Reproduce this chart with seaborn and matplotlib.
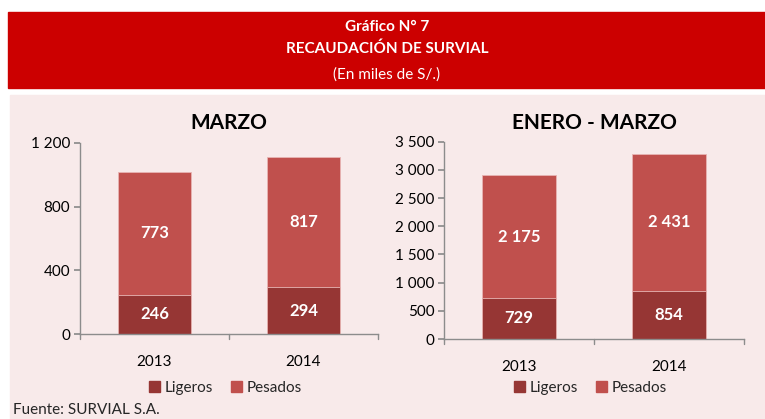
import pandas as pd
import seaborn as sns
import matplotlib.pyplot as plt
from matplotlib.patches import Rectangle, Patch
from matplotlib.ticker import FuncFormatter

years = ['2013', '2014']
marzo_ligeros = [246, 294]
marzo_pesados = [773, 817]
enero_marzo_ligeros = [729, 854]
enero_marzo_pesados = [2175, 2431]

c_lig = '#963634'
c_pes = '#C0504D'
bg = '#F8EAEA'
axis_col = '#8C8C8C'

sns.set_theme(style='white')
plt.rcParams['font.family'] = ['Lato', 'DejaVu Sans']

fig = plt.figure(figsize=(7.65, 4.19), dpi=100)
W, H = 765, 419

# header band and pink panel
fig.patches.append(Rectangle((8 / W, 1 - 88 / H), 1, 76 / H, transform=fig.transFigure,
                             color='#CC0000', zorder=-10))
fig.patches.append(Rectangle((10 / W, 0), 1, 1 - 95 / H, transform=fig.transFigure,
                             color=bg, zorder=-10))
fig.text(387 / W, 1 - 27 / H, 'Gráfico N° 7', color='white', fontsize=11, fontweight='bold',
         ha='center', va='center')
fig.text(387 / W, 1 - 49 / H, 'RECAUDACIÓN DE SURVIAL', color='white', fontsize=11,
         fontweight='bold', ha='center', va='center')
fig.text(387 / W, 1 - 75 / H, '(En miles de S/.)', color='white', fontsize=11,
         ha='center', va='center')


def thousands(v, pos):
    return f'{int(v):,}'.replace(',', ' ')


def draw(rect, title, lig, pes, ymax, step, title_y):
    ax = fig.add_axes(rect)
    ax.set_facecolor('none')
    df = pd.DataFrame({'year': years, 'Ligeros': lig, 'Pesados': pes})
    df['total'] = df['Ligeros'] + df['Pesados']
    sns.barplot(data=df, x='year', y='total', color=c_pes, width=0.49, saturation=1,
                edgecolor='#E8B5B3', linewidth=0.6, ax=ax)
    sns.barplot(data=df, x='year', y='Ligeros', color=c_lig, width=0.49, saturation=1,
                edgecolor='#E8B5B3', linewidth=0.6, ax=ax)
    for i, row in df.iterrows():
        ax.text(i, row['Ligeros'] / 2, thousands(row['Ligeros'], None), color='white',
                fontsize=12, fontweight='bold', ha='center', va='center')
        ax.text(i, row['Ligeros'] + row['Pesados'] / 2, thousands(row['Pesados'], None),
                color='white', fontsize=12, fontweight='bold', ha='center', va='center')
    ax.set_xlim(-0.5, 1.5)
    ax.set_ylim(0, ymax)
    ax.set_yticks(range(0, ymax + 1, step))
    ax.yaxis.set_major_formatter(FuncFormatter(thousands))
    ax.set_xlabel('')
    ax.set_ylabel('')
    for s in ['top', 'right']:
        ax.spines[s].set_visible(False)
    for s in ['left', 'bottom']:
        ax.spines[s].set_color(axis_col)
        ax.spines[s].set_linewidth(1)
    ax.tick_params(axis='y', left=True, length=4, color=axis_col, labelsize=11, pad=3,
                   labelcolor='black')
    ax.tick_params(axis='x', bottom=False, labelsize=11, pad=9, labelcolor='black')
    # category boundary ticks on the x axis
    for xb in [-0.5, 0.5, 1.5]:
        ax.plot([xb, xb], [0, -0.025], transform=ax.get_xaxis_transform(), color=axis_col,
                lw=1, clip_on=False)
    x0 = rect[0] + rect[2] / 2
    fig.text(x0, 1 - title_y / H, title, fontsize=15, fontweight='bold', ha='center',
             va='center', color='black')
    handles = [Patch(color=c_lig, label='Ligeros'), Patch(color=c_pes, label='Pesados')]
    fig.legend(handles=handles, loc='center', bbox_to_anchor=(x0 - 0.005, 1 - 388 / H),
               ncol=2, frameon=False, fontsize=11, handlelength=0.7, handleheight=0.7,
               handletextpad=0.3, columnspacing=1.2)
    return ax


draw([80 / W, 1 - 334 / H, 298 / W, 191 / H], 'MARZO', marzo_ligeros, marzo_pesados,
     1200, 400, 123)
draw([444 / W, 1 - 339 / H, 300 / W, 197.3 / H], 'ENERO - MARZO', enero_marzo_ligeros,
     enero_marzo_pesados, 3500, 500, 123)

fig.text(13 / W, 1 - 410 / H, 'Fuente: SURVIAL S.A.', fontsize=11, ha='left', va='center')

fig.savefig('out.png', dpi=100)
